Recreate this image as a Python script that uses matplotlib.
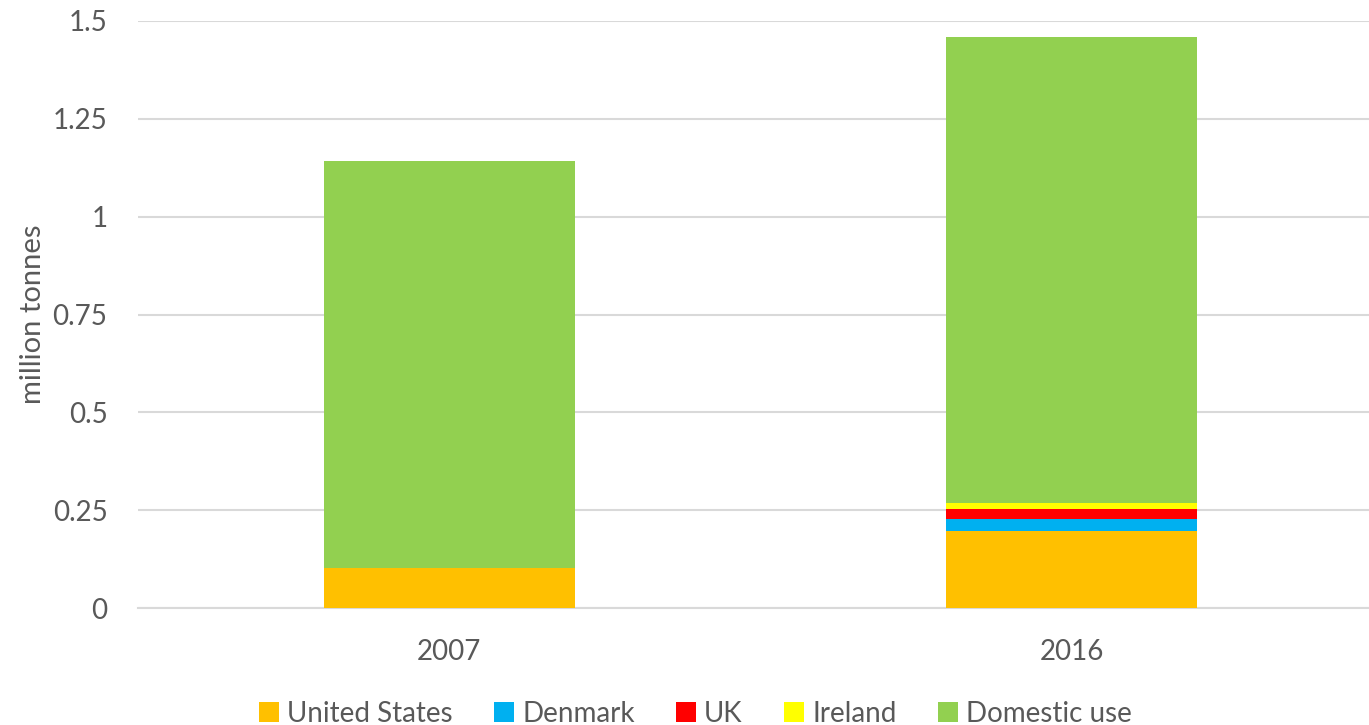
import matplotlib
matplotlib.use("Agg")
import matplotlib.pyplot as plt
import numpy as np

years = ["2007", "2016"]
series_names = ["United States", "Denmark", "UK", "Ireland", "Domestic use"]
united_states = [0.102, 0.198]
denmark = [0.0, 0.029]
uk = [0.0, 0.027]
ireland = [0.0, 0.015]
domestic_use = [1.040, 1.189]
colors = ["#FFC000", "#00B0F0", "#FF0000", "#FFFF00", "#92D050"]
yticks = [0, 0.25, 0.5, 0.75, 1, 1.25, 1.5]
ytick_labels = ["0", "0.25", "0.5", "0.75", "1", "1.25", "1.5"]

plt.rcParams["font.family"] = ["Lato", "DejaVu Sans"]
text_color = "#595959"

fig = plt.figure(figsize=(13.69, 7.25), dpi=100)
ax = fig.add_axes([138 / 1369, 116.7 / 725, 1245 / 1369, 587.6 / 725])

x = np.arange(len(years))
bottom = np.zeros(len(years))
for name, vals, c in zip(series_names,
                         [united_states, denmark, uk, ireland, domestic_use],
                         colors):
    ax.bar(x, vals, width=0.404, bottom=bottom, color=c, label=name, zorder=3)
    bottom += np.array(vals)

ax.set_xlim(-0.5, 1.5)
ax.set_ylim(0, 1.5)
ax.set_yticks(yticks)
ax.set_yticklabels(ytick_labels)
ax.set_xticks(x)
ax.set_xticklabels(years)
ax.yaxis.grid(True, color="#d9d9d9", linewidth=1.5, zorder=0)
for s in ["top", "right", "left"]:
    ax.spines[s].set_visible(False)
ax.spines["bottom"].set_color("#d9d9d9")
ax.spines["bottom"].set_linewidth(1.5)
ax.tick_params(axis="both", length=0, labelsize=20, colors=text_color)
ax.tick_params(axis="y", pad=22)
ax.tick_params(axis="x", pad=22)
ax.set_ylabel("million tonnes", fontsize=21, color=text_color, labelpad=5)

handles, labels = ax.get_legend_handles_labels()
fig.legend(handles, labels, loc="lower center", bbox_to_anchor=(0.508, -0.037),
           ncol=5, frameon=False, fontsize=20, labelcolor=text_color,
           handlelength=0.7, handleheight=0.7, handletextpad=0.3,
           columnspacing=1.5)

fig.savefig("out.png", dpi=100)
